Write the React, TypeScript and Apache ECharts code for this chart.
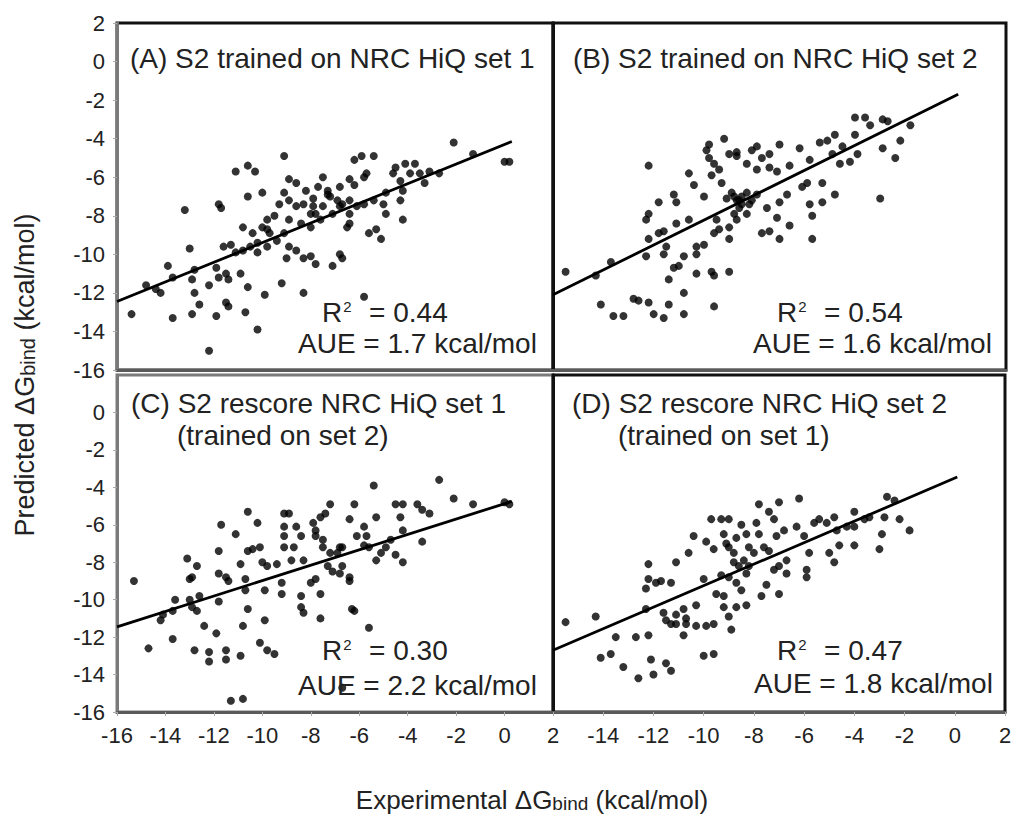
import React, { useEffect, useRef } from "react";
import * as echarts from "echarts";

const FONT = "'Liberation Sans', Arial, Helvetica, sans-serif";

const axisTicks = [-16, -14, -12, -10, -8, -6, -4, -2, 0, 2];

const scatterA: number[][] = [
  [-15.4, -13.1], [-13.7, -13.3], [-12.9, -13.1], [-12.2, -15.0], [-11.9, -13.2], [-10.2, -13.9], [-10.7, -13.0],
  [-11.4, -12.7], [-11.5, -12.5], [-12.6, -12.6], [-12.8, -12.0], [-12.2, -11.6], [-10.6, -11.7], [-9.9, -12.1],
  [-9.2, -11.5], [-8.3, -12.0], [-5.8, -12.2], [-14.8, -11.6], [-14.2, -12.0], [-14.4, -11.8], [-13.9, -10.6],
  [-13.7, -11.2], [-12.9, -11.3], [-12.8, -10.8], [-11.9, -10.7], [-11.8, -11.2], [-11.5, -11.0], [-11.4, -11.3],
  [-10.9, -11.0], [-13.2, -7.7], [-13.0, -9.7], [-11.8, -7.4], [-11.7, -7.6], [-11.1, -5.7], [-10.6, -5.4],
  [-10.3, -5.7], [-10.6, -7.0], [-10.0, -6.8], [-10.8, -8.6], [-9.1, -4.9], [-8.9, -6.1], [-8.6, -6.3], [-9.1, -6.8],
  [-8.2, -6.7], [-9.3, -7.4], [-8.9, -7.2], [-8.6, -7.5], [-7.9, -7.1], [-7.5, -6.0], [-7.7, -6.5], [-7.3, -6.7],
  [-7.2, -7.0], [-6.8, -6.5], [-6.4, -6.1], [-6.2, -6.4], [-5.8, -6.0], [-6.2, -5.1], [-5.9, -4.9], [-5.4, -4.9],
  [-5.7, -5.8], [-6.7, -7.4], [-6.4, -7.2], [-7.5, -7.5], [-7.8, -7.9], [-8.0, -7.9], [-7.6, -8.2], [-7.1, -7.9],
  [-6.8, -7.5], [-8.9, -8.2], [-8.4, -8.4], [-8.0, -8.6], [-9.8, -8.2], [-10.0, -8.6], [-9.7, -8.9], [-9.4, -9.3],
  [-9.1, -8.9], [-8.9, -9.6], [-8.6, -9.8], [-10.2, -9.4], [-10.5, -9.6], [-10.8, -9.8], [-11.1, -9.9], [-11.6, -9.6],
  [-11.3, -9.5], [-10.2, -9.9], [-9.8, -9.6], [-9.0, -10.2], [-8.3, -10.2], [-8.0, -10.1], [-7.8, -10.5], [-7.1, -10.6],
  [-6.8, -10.0], [-6.7, -10.2], [-6.5, -8.6], [-6.4, -8.4], [-5.6, -8.9], [-5.3, -8.7], [-5.1, -9.2], [-6.4, -7.9],
  [-6.1, -7.5], [-5.8, -7.4], [-5.4, -7.2], [-5.0, -7.4], [-4.9, -7.9], [-4.2, -8.2], [-4.9, -6.8], [-4.6, -5.8],
  [-4.5, -5.5], [-4.1, -5.3], [-3.7, -5.3], [-4.3, -6.2], [-4.2, -6.7], [-4.3, -7.2], [-3.9, -5.8], [-3.5, -5.8],
  [-3.3, -6.3], [-3.1, -5.7], [-2.7, -5.8], [-2.1, -4.2], [-1.3, -4.8], [0.2, -5.2], [0.0, -5.2], [-7.3, -6.9],
  [-6.9, -7.2], [-7.9, -7.5], [-8.3, -7.4], [-9.8, -8.7], [-10.4, -8.9], [-9.5, -8.0],
];

const scatterB: number[][] = [
  [-15.5, -10.9], [-14.3, -11.1], [-13.7, -10.4], [-14.1, -12.6], [-13.6, -13.2], [-13.2, -13.2], [-12.8, -12.3],
  [-12.6, -12.4], [-12.2, -12.5], [-12.0, -13.1], [-11.6, -13.3], [-11.4, -12.6], [-10.8, -13.1], [-10.8, -12.0],
  [-9.6, -12.7], [-12.3, -10.1], [-12.2, -9.2], [-11.8, -8.9], [-11.6, -8.8], [-11.5, -9.6], [-11.6, -10.0],
  [-11.4, -11.3], [-11.2, -10.7], [-11.0, -10.6], [-10.8, -10.1], [-10.3, -11.0], [-9.7, -10.9], [-9.6, -11.1],
  [-9.0, -10.9], [-10.3, -10.0], [-10.3, -9.6], [-10.0, -9.5], [-12.3, -8.2], [-12.2, -7.9], [-11.8, -7.3],
  [-11.2, -6.9], [-11.1, -7.3], [-11.1, -8.4], [-10.6, -8.2], [-10.6, -5.8], [-10.4, -6.4], [-10.0, -7.0],
  [-12.2, -5.4], [-9.8, -4.3], [-9.9, -4.6], [-9.2, -4.0], [-9.6, -5.3], [-9.7, -5.9], [-9.4, -5.6], [-9.3, -6.3],
  [-9.0, -4.8], [-8.7, -4.9], [-8.3, -5.3], [-8.1, -4.6], [-7.9, -4.4], [-7.7, -5.0], [-7.4, -4.8], [-7.9, -5.6],
  [-7.4, -5.5], [-7.0, -4.3], [-7.1, -5.7], [-6.6, -5.4], [-6.2, -4.5], [-5.8, -5.1], [-5.9, -6.3], [-5.3, -6.3],
  [-6.1, -6.5], [-6.7, -6.9], [-7.0, -7.3], [-7.5, -7.6], [-8.9, -6.8], [-8.7, -7.2], [-8.5, -7.0], [-8.6, -7.6],
  [-8.8, -7.9], [-8.2, -7.4], [-7.9, -6.9], [-8.3, -7.9], [-8.7, -8.2], [-9.0, -8.6], [-9.5, -8.2], [-9.6, -8.9],
  [-9.4, -8.7], [-9.0, -9.2], [-7.1, -8.1], [-6.6, -8.5], [-7.7, -8.9], [-7.4, -8.8], [-7.0, -9.2], [-5.8, -7.4],
  [-5.7, -8.0], [-5.7, -9.2], [-5.3, -7.3], [-4.8, -6.9], [-5.4, -4.2], [-5.1, -4.1], [-4.8, -3.8], [-4.9, -4.8],
  [-4.6, -5.3], [-4.5, -4.4], [-4.2, -5.2], [-4.0, -3.8], [-3.9, -4.8], [-4.0, -2.9], [-3.6, -2.9], [-3.4, -3.3],
  [-2.9, -3.0], [-2.7, -3.1], [-2.2, -4.1], [-2.9, -4.5], [-2.4, -5.0], [-1.8, -3.3], [-3.0, -7.1], [-8.6, -7.2],
  [-8.8, -7.0], [-8.5, -7.4], [-9.1, -7.1], [-8.1, -7.2], [-8.3, -6.8], [-9.8, -5.0], [-8.7, -4.7],
];

const scatterC: number[][] = [
  [-15.3, -9.0], [-14.7, -12.6], [-13.7, -12.1], [-14.2, -11.1], [-14.1, -10.8], [-13.7, -10.6], [-13.6, -10.0],
  [-13.0, -10.0], [-12.9, -10.4], [-12.7, -10.6], [-12.6, -9.8], [-13.1, -7.8], [-12.7, -8.2], [-12.9, -8.8],
  [-13.0, -8.9], [-12.4, -11.4], [-11.9, -11.8], [-12.8, -12.7], [-12.2, -12.8], [-12.2, -13.3], [-11.5, -12.7],
  [-11.5, -13.2], [-10.9, -13.0], [-10.8, -11.4], [-10.6, -10.5], [-9.9, -11.1], [-10.1, -12.3], [-9.8, -12.7],
  [-9.5, -12.9], [-11.8, -10.1], [-11.8, -8.6], [-11.5, -8.8], [-11.4, -9.0], [-11.8, -7.4], [-11.7, -6.0],
  [-11.1, -6.5], [-10.6, -5.3], [-10.2, -5.9], [-10.6, -7.4], [-10.9, -8.1], [-10.7, -8.9], [-10.7, -9.5],
  [-10.4, -7.3], [-10.1, -7.2], [-10.0, -8.0], [-9.8, -8.2], [-9.9, -9.5], [-9.2, -9.1], [-9.2, -9.7], [-9.1, -5.4],
  [-8.9, -5.4], [-9.1, -6.1], [-9.1, -6.6], [-8.6, -6.1], [-8.4, -6.6], [-8.7, -7.2], [-9.1, -7.2], [-9.4, -8.1],
  [-8.8, -7.9], [-8.3, -7.9], [-8.4, -9.8], [-8.4, -10.4], [-8.3, -10.7], [-8.0, -9.1], [-7.8, -8.9], [-7.6, -9.7],
  [-7.6, -11.0], [-7.9, -5.9], [-7.8, -6.3], [-7.6, -5.6], [-7.4, -5.4], [-7.2, -4.9], [-7.8, -6.6], [-7.5, -6.8],
  [-7.5, -7.2], [-7.2, -7.5], [-7.3, -8.2], [-7.1, -8.5], [-6.8, -8.6], [-6.7, -8.2], [-6.4, -8.8], [-6.4, -9.0],
  [-6.9, -7.5], [-6.8, -7.2], [-6.4, -5.7], [-6.2, -4.9], [-6.1, -6.6], [-5.8, -6.1], [-5.7, -6.6], [-5.6, -7.2],
  [-5.4, -3.9], [-5.3, -5.6], [-5.3, -7.9], [-5.1, -7.5], [-4.9, -7.2], [-4.7, -6.8], [-4.5, -7.6], [-4.2, -8.0],
  [-4.5, -4.9], [-4.2, -4.9], [-4.3, -5.6], [-4.2, -6.3], [-3.6, -4.9], [-3.4, -5.2], [-3.1, -5.4], [-3.4, -6.9],
  [-2.7, -3.6], [-2.1, -4.6], [-1.3, -4.9], [0.0, -4.8], [0.2, -4.9], [-6.3, -10.5], [-6.2, -10.6], [-5.6, -11.5],
  [-6.7, -14.7], [-11.3, -15.4], [-10.8, -15.3], [-5.8, -7.1], [-6.7, -7.2],
];

const scatterD: number[][] = [
  [-15.5, -11.2], [-14.3, -10.9], [-14.1, -13.1], [-13.7, -12.9], [-13.5, -12.0], [-13.2, -13.6], [-12.7, -12.0],
  [-12.6, -14.2], [-12.2, -11.9], [-12.1, -13.2], [-12.0, -14.0], [-11.5, -13.4], [-11.3, -13.8], [-12.3, -10.5],
  [-12.3, -9.4], [-12.2, -8.9], [-12.2, -8.1], [-11.9, -9.1], [-11.7, -9.0], [-11.3, -9.1], [-11.6, -10.7],
  [-11.5, -11.1], [-11.3, -11.3], [-11.1, -11.3], [-11.1, -10.8], [-10.8, -10.5], [-10.7, -11.0], [-10.7, -11.3],
  [-10.3, -11.4], [-9.9, -11.4], [-9.6, -11.3], [-10.8, -11.9], [-10.3, -10.3], [-10.0, -13.0], [-9.6, -12.9],
  [-8.9, -11.6], [-9.0, -10.9], [-8.7, -10.4], [-8.3, -10.3], [-9.2, -10.4], [-9.5, -9.7], [-9.2, -9.8],
  [-10.0, -8.9], [-9.3, -8.7], [-9.0, -8.8], [-8.7, -9.1], [-8.5, -9.5], [-8.6, -8.2], [-8.8, -8.0], [-8.3, -8.6],
  [-7.7, -9.8], [-7.5, -9.2], [-7.0, -9.7], [-11.1, -8.0], [-10.6, -7.5], [-10.4, -6.6], [-9.9, -6.9], [-9.7, -5.7],
  [-9.3, -5.7], [-9.0, -5.7], [-9.6, -7.3], [-9.2, -6.5], [-9.1, -7.0], [-9.0, -7.2], [-8.7, -6.7], [-8.5, -6.0],
  [-8.3, -6.5], [-8.2, -7.2], [-8.0, -7.5], [-7.9, -5.9], [-7.8, -6.5], [-7.8, -4.9], [-7.4, -5.3], [-7.2, -5.7],
  [-7.0, -4.8], [-6.2, -4.6], [-7.6, -7.2], [-7.4, -7.4], [-7.1, -6.6], [-6.8, -6.3], [-6.7, -7.9], [-7.0, -8.2],
  [-7.2, -8.4], [-6.7, -8.6], [-6.3, -6.1], [-6.0, -6.6], [-5.8, -7.5], [-5.9, -8.4], [-5.9, -8.8], [-5.6, -5.9],
  [-5.4, -5.7], [-5.1, -5.9], [-4.8, -5.6], [-4.7, -6.3], [-5.0, -7.5], [-4.8, -8.0], [-4.6, -7.1], [-4.3, -6.1],
  [-4.0, -5.3], [-4.0, -6.1], [-4.0, -7.1], [-3.6, -5.7], [-3.4, -5.6], [-2.9, -6.5], [-3.0, -7.3], [-2.8, -5.6],
  [-2.7, -4.5], [-2.4, -4.7], [-2.2, -5.7], [-1.8, -6.3], [-8.4, -7.9], [-8.2, -8.2], [-8.8, -7.5],
];

const trendA: number[][] = [[-16, -12.45], [0.3, -4.15]];
const trendB: number[][] = [[-16, -12.1], [0.1, -1.7]];
const trendC: number[][] = [[-16, -11.45], [0.3, -4.75]];
const trendD: number[][] = [[-16, -12.7], [0.1, -3.45]];

const panelTitles = [
  ["(A) S2 trained on NRC HiQ set 1"],
  ["(B) S2 trained on NRC HiQ set 2"],
  ["(C) S2 rescore NRC HiQ set 1", "(trained on set 2)"],
  ["(D) S2 rescore NRC HiQ set 2", "(trained on set 1)"],
];
const rSquared = ["0.44", "0.54", "0.30", "0.47"];
const aueValues = ["1.7", "1.6", "2.2", "1.8"];

const grids = [
  { left: 117, top: 23, width: 436, height: 347, border: "#111" },
  { left: 553, top: 23, width: 453, height: 347, border: "#111" },
  { left: 117, top: 375, width: 436, height: 337, border: "#7a7a7a" },
  { left: 553, top: 375, width: 452, height: 337, border: "#111" },
];

// pixel anchors for the in-panel texts
const titlePos = [
  { x: 130, y: 58, x2: 0, y2: 0 },
  { x: 573, y: 58, x2: 0, y2: 0 },
  { x: 131, y: 403, x2: 177, y2: 435 },
  { x: 572, y: 403, x2: 618, y2: 435 },
];
const statPos = [
  { rx: 322, ry: 312, ax: 298, ay: 343 },
  { rx: 777, ry: 312, ax: 753, ay: 343 },
  { rx: 322, ry: 650, ax: 298, ay: 685 },
  { rx: 777, ry: 650, ax: 754, ay: 683 },
];

export default function App() {
  const ref = useRef<HTMLDivElement>(null);
  useEffect(() => {
    if (!ref.current) return;
    const chart = echarts.init(ref.current, undefined, { renderer: "svg" });
    const scatters = [scatterA, scatterB, scatterC, scatterD];
    const trends = [trendA, trendB, trendC, trendD];

    const xAxis = grids.map((_, i) => ({
      gridIndex: i,
      type: "value",
      min: axisTicks[0],
      max: axisTicks[axisTicks.length - 1],
      interval: 2,
      axisLine: { show: true, onZero: false, lineStyle: { color: "#5a5a5a", width: 3 } },
      axisTick: { show: i >= 2, length: 4, lineStyle: { color: "#aaa", width: 1 } },
      axisLabel: {
        show: i >= 2,
        fontSize: 22,
        color: "#222",
        fontFamily: FONT,
        margin: 12,
        showMinLabel: i === 2,
        showMaxLabel: true,
      },
      splitLine: { show: false },
    }));
    const yAxis = grids.map((_, i) => ({
      gridIndex: i,
      type: "value",
      min: axisTicks[0],
      max: axisTicks[axisTicks.length - 1],
      interval: 2,
      axisLine: {
        show: true,
        onZero: false,
        lineStyle: { color: i % 2 === 0 ? "#7a7a7a" : "#111", width: 3 },
      },
      axisTick: { show: i % 2 === 0, length: 4, lineStyle: { color: "#aaa", width: 1 } },
      axisLabel: {
        show: i % 2 === 0,
        fontSize: 22,
        color: "#222",
        fontFamily: FONT,
        margin: 12,
        showMaxLabel: i === 0,
        showMinLabel: true,
      },
      splitLine: { show: false },
    }));

    const series: any[] = [];
    scatters.forEach((d, i) => {
      series.push({
        type: "line",
        xAxisIndex: i,
        yAxisIndex: i,
        data: trends[i],
        symbol: "none",
        lineStyle: { color: "#000", width: 2.8 },
        z: 3,
      });
      series.push({
        type: "scatter",
        xAxisIndex: i,
        yAxisIndex: i,
        data: d,
        symbolSize: 8,
        itemStyle: { color: "#000" },
        z: 4,
      });
    });

    const textStyle = (text: string) => ({
      text,
      font: `28px ${FONT}`,
      fill: "#222",
      verticalAlign: "middle",
      align: "left",
    });

    const graphic: any[] = [];
    panelTitles.forEach((lines, i) => {
      graphic.push({ type: "text", x: titlePos[i].x, y: titlePos[i].y, style: textStyle(lines[0]), z: 10 });
      if (lines[1]) {
        graphic.push({ type: "text", x: titlePos[i].x2, y: titlePos[i].y2, style: textStyle(lines[1]), z: 10 });
      }
      graphic.push({
        type: "text",
        x: statPos[i].rx,
        y: statPos[i].ry,
        style: {
          ...textStyle(`R{sup|2}  = ${rSquared[i]}`),
          rich: { sup: { fontSize: 15, fontFamily: FONT, fill: "#222", padding: [0, 2, 12, 1] } },
        },
        z: 10,
      });
      graphic.push({
        type: "text",
        x: statPos[i].ax,
        y: statPos[i].ay,
        style: textStyle(`AUE = ${aueValues[i]} kcal/mol`),
        z: 10,
      });
    });
    graphic.push({
      type: "text",
      x: 25,
      y: 375,
      rotation: Math.PI / 2,
      style: {
        text: "Predicted ΔG{s|bind} (kcal/mol)",
        font: `27px ${FONT}`,
        fill: "#222",
        align: "center",
        verticalAlign: "middle",
        rich: { s: { fontSize: 20, fontFamily: FONT, fill: "#222", padding: [6, 0, 0, 0] } },
      },
      z: 10,
    });
    graphic.push({
      type: "text",
      x: 532,
      y: 800,
      style: {
        text: "Experimental ΔG{s|bind} (kcal/mol)",
        font: `26px ${FONT}`,
        fill: "#222",
        align: "center",
        verticalAlign: "middle",
        rich: { s: { fontSize: 19, fontFamily: FONT, fill: "#222", padding: [6, 0, 0, 0] } },
      },
      z: 10,
    });

    chart.setOption({
      animation: false,
      backgroundColor: "#fff",
      grid: grids.map((g) => ({
        left: g.left,
        top: g.top,
        width: g.width,
        height: g.height,
        show: true,
        borderColor: g.border,
        borderWidth: 3,
        backgroundColor: "transparent",
      })),
      xAxis,
      yAxis,
      series,
      graphic,
    });
    return () => chart.dispose();
  }, []);
  return (
    <div
      ref={ref}
      style={{ position: "absolute", left: 0, top: 0, width: 1020, height: 819, background: "#fff" }}
    />
  );
}
